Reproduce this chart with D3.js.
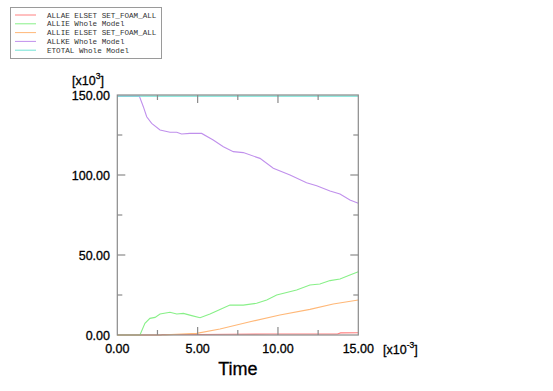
<!DOCTYPE html>
<html><head><meta charset="utf-8">
<script src="https://cdn.jsdelivr.net/npm/d3@7"></script>
<style>html,body{margin:0;padding:0;background:#fff;}svg{display:block;}</style>
</head><body>
<svg id="c" width="553" height="391"></svg>
<script>
// ---- data (time in 1e-3, energy in 1e3) ----
const legendNames = ["ALLAE ELSET SET_FOAM_ALL","ALLIE Whole Model","ALLIE ELSET SET_FOAM_ALL","ALLKE Whole Model","ETOTAL Whole Model"];
const seriesColors = ["#ff8080","#88f088","#ffb878","#c090ec","#70e2d4"];

const allaeT = [0, 2.7, 2.8, 5, 7, 9.5, 11, 13.7, 13.9, 15];
const allaeV = [0, 0, 0.3, 0.35, 0.45, 0.6, 0.6, 0.65, 1.3, 1.4];

const allieT = [0, 1.41, 1.72, 2.03, 2.35, 2.66, 3.28, 3.7, 4.11, 4.63, 5.15, 5.77, 6.39, 7.01, 7.84, 8.67, 9.3, 9.92, 11.16, 11.99, 12.61, 13.24, 13.86, 14.48, 15];
const allieV = [0, 0, 7.3, 10.4, 11.0, 13.1, 14.2, 13.1, 13.5, 12.1, 10.8, 13.1, 16.0, 18.7, 18.7, 19.8, 21.9, 25.0, 28.1, 31.3, 31.9, 34.0, 35.0, 37.5, 39.6];

const allieFoamT = [0, 2.5, 3, 4, 4.94, 6.39, 8.26, 10.12, 11.99, 13.44, 15];
const allieFoamV = [0, 0, 0.1, 0.6, 1.0, 3.75, 8.3, 12.5, 16.0, 19.4, 21.9];

const allkeT = [0, 1.37, 1.62, 1.83, 2.14, 2.66, 3.28, 3.7, 4.0, 4.52, 5.25, 5.97, 6.6, 7.22, 7.84, 8.88, 9.71, 10.75, 11.78, 12.41, 13.24, 13.86, 14.48, 15];
const allkeV = [149.3, 149.3, 142.7, 136.4, 132.3, 128.1, 126.7, 126.7, 125.6, 126.0, 126.0, 121.9, 117.7, 114.6, 114.0, 110.4, 104.2, 100.0, 95.2, 93.3, 90.0, 88.1, 84.4, 82.3];

const etotalT = [0, 15];
const etotalV = [149.3, 149.3];

const xTicks = [0, 5, 10, 15];
const xMinor = [2.5, 7.5, 12.5];
const yTicks = [0, 50, 100, 150];
const yMinor = [25, 75, 125];

const series = [
  {t: allaeT, v: allaeV},
  {t: allieT, v: allieV},
  {t: allieFoamT, v: allieFoamV},
  {t: allkeT, v: allkeV},
  {t: etotalT, v: etotalV}
];

// ---- layout ----
const svg = d3.select("#c");
const L = 117.3, R = 358.3, T = 95, B = 335;
const x = d3.scaleLinear().domain([0, 15]).range([L, R]);
const y = d3.scaleLinear().domain([0, 150]).range([B, T]);
const frameColor = "#8a8a8a";
const font = "'Liberation Sans', Arial, sans-serif";

// series lines
const line = d3.line().x(d => x(d[0])).y(d => y(d[1]));
series.forEach((s, i) => {
  const pts = s.t.map((t, j) => [t, s.v[j]]);
  svg.append("path").attr("d", line(pts)).attr("fill", "none")
    .attr("stroke", seriesColors[i]).attr("stroke-width", 1.1);
});

// frame
svg.append("rect").attr("x", L).attr("y", T).attr("width", R - L).attr("height", B - T)
  .attr("fill", "none").attr("stroke", frameColor).attr("stroke-width", 1.2);

// ticks (inside, all four sides)
const tg = svg.append("g").attr("stroke", frameColor).attr("stroke-width", 1.2);
xTicks.slice(1, -1).forEach(v => {
  tg.append("line").attr("x1", x(v)).attr("x2", x(v)).attr("y1", B).attr("y2", B - 8);
  tg.append("line").attr("x1", x(v)).attr("x2", x(v)).attr("y1", T).attr("y2", T + 8);
});
xMinor.forEach(v => {
  tg.append("line").attr("x1", x(v)).attr("x2", x(v)).attr("y1", B).attr("y2", B - 5);
  tg.append("line").attr("x1", x(v)).attr("x2", x(v)).attr("y1", T).attr("y2", T + 5);
});
yTicks.slice(1, -1).forEach(v => {
  tg.append("line").attr("y1", y(v)).attr("y2", y(v)).attr("x1", L).attr("x2", L + 8);
  tg.append("line").attr("y1", y(v)).attr("y2", y(v)).attr("x1", R).attr("x2", R - 8);
});
yMinor.forEach(v => {
  tg.append("line").attr("y1", y(v)).attr("y2", y(v)).attr("x1", L).attr("x2", L + 5);
  tg.append("line").attr("y1", y(v)).attr("y2", y(v)).attr("x1", R).attr("x2", R - 5);
});

function txt(el) {
  return el.attr("font-family", font).attr("fill", "#000")
    .attr("stroke", "#000").attr("stroke-width", 0.3);
}

// tick labels
xTicks.forEach(v => {
  txt(svg.append("text")).attr("x", x(v)).attr("y", 353).attr("text-anchor", "middle")
    .attr("font-size", 12.5).text(v.toFixed(2));
});
yTicks.forEach(v => {
  txt(svg.append("text")).attr("x", 110).attr("y", y(v) + 4.5).attr("text-anchor", "end")
    .attr("font-size", 12.5).text(v.toFixed(2));
});

// multipliers
const m1 = txt(svg.append("text")).attr("x", 72).attr("y", 85).attr("font-size", 12.5);
m1.append("tspan").text("[x10");
m1.append("tspan").attr("dy", -6).attr("font-size", 8.5).text("3");
m1.append("tspan").attr("dy", 6).text("]");

const m2 = txt(svg.append("text")).attr("x", 383).attr("y", 354).attr("font-size", 12.5);
m2.append("tspan").text("[x10");
m2.append("tspan").attr("dy", -6).attr("font-size", 8.5).text("-3");
m2.append("tspan").attr("dy", 6).text("]");

// axis title
txt(svg.append("text")).attr("x", (L + R) / 2).attr("y", 375).attr("text-anchor", "middle")
  .attr("font-size", 18).text("Time");

// legend
svg.append("rect").attr("x", 10.5).attr("y", 7.5).attr("width", 151).attr("height", 51)
  .attr("fill", "#fff").attr("stroke", "#9a9a9a").attr("stroke-width", 1);
legendNames.forEach((n, i) => {
  const ly = 15 + i * 8.8;
  svg.append("line").attr("x1", 15).attr("x2", 36).attr("y1", ly).attr("y2", ly)
    .attr("stroke", seriesColors[i]).attr("stroke-width", 1);
  svg.append("text").attr("x", 47).attr("y", ly + 2.6)
    .attr("font-family", "'Liberation Mono', 'Courier New', monospace")
    .attr("font-size", 7.6).attr("fill", "#333").text(n);
});
</script>
</body></html>
